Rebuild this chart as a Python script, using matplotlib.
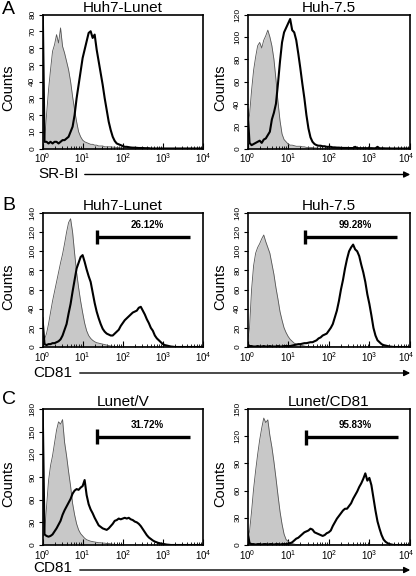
import numpy as np
import matplotlib
matplotlib.use("Agg")
import matplotlib.pyplot as plt
import matplotlib.transforms as mtransforms
from matplotlib.patches import FancyArrowPatch

plt.rcParams['font.family'] = ['Liberation Sans', 'DejaVu Sans']
plt.rcParams['mathtext.fontset'] = 'custom'
plt.rcParams['mathtext.rm'] = 'Liberation Sans'
plt.rcParams['mathtext.it'] = 'Liberation Sans:italic'

# channel positions (log10 of fluorescence), 0.05 decade steps from 10^0 to 10^4
log_bins = np.arange(0, 4.001, 0.05)

# --- A: SR-BI ---
a_lunet_iso = [2, 4, 20, 35, 47, 58, 62, 68, 63, 72, 61, 57, 52, 47, 40, 31, 23, 16, 10, 7,
               5, 4, 3.5, 3, 2.5, 2.5, 2, 2, 1.5, 1.5, 1.5, 1, 1, 1, 1, 0.8, 0.8, 0.6, 0.5, 0.4,
               0.3, 0.3, 0.2, 0.2, 0.1, 0, 0, 0, 0, 0, 0, 0, 0, 0, 0, 0, 0, 0, 0, 0,
               0, 0, 0, 0, 0, 0, 0, 0, 0, 0, 0, 0, 0, 0, 0, 0, 0, 0, 0, 0, 0]
a_lunet_srbi = [95, 4, 4, 3, 4, 3, 4, 4, 3, 4, 5, 5, 6, 7, 10, 13, 20, 30, 38, 46,
                54, 59, 64, 69, 70, 66, 68, 59, 52, 45, 38, 30, 23, 16, 11, 7, 4.5, 3, 2.5, 2,
                1.5, 1, 1, 0.8, 0.6, 0.5, 0.5, 0.4, 0.3, 0.3, 0.3, 0.2, 0.2, 0.2, 0, 0, 0, 0, 0, 0,
                0, 0, 0, 0, 0, 0, 0, 0, 0, 0, 0, 0, 0, 0, 0, 0, 0, 0, 0, 0, 0]
a_h75_iso = [20, 30, 52, 70, 82, 92, 95, 90, 97, 101, 106, 100, 92, 80, 62, 42, 25, 13, 8, 6,
             4, 3, 3, 2.5, 2, 2, 2, 1.5, 1.5, 1, 1, 1, 0.8, 0.5, 0.5, 0.3, 0.3, 0.2, 0.2, 0,
             0, 0, 0, 0, 0, 0, 0, 0, 0, 0, 0, 0, 0, 0, 0, 0, 0, 0, 0, 0,
             0, 0, 0, 0, 0, 0, 0, 0, 0, 0, 0, 0, 0, 0, 0, 0, 0, 0, 0, 0, 0]
a_h75_srbi = [35, 5, 3, 4, 5, 6, 7, 5, 8, 9, 12, 15, 26, 32, 40, 58, 78, 95, 104, 108,
              112, 116, 106, 104, 97, 85, 72, 58, 45, 30, 18, 10, 6, 4, 3, 2.5, 2.5, 2, 2, 1.5,
              1.5, 1.5, 1, 1, 0.8, 0.8, 0.6, 0.5, 0.5, 0.5, 0.4, 0.4, 0.4, 1.5, 0.4, 0.3, 0.3, 0.3, 0.3, 0.3,
              0.3, 0.3, 0.2, 0.2, 1.5, 0.2, 0.2, 0.2, 0.1, 0.1, 0.1, 0, 0, 0, 0, 0, 0, 0, 0, 0, 0]

# --- B: CD81 ---
b_lunet_iso = [3, 8, 14, 24, 36, 48, 58, 68, 78, 88, 97, 108, 120, 130, 134, 120, 98, 78, 62, 48,
               36, 25, 17, 12, 9, 7, 5.5, 4.5, 4, 3.5, 3, 2.5, 2, 1.5, 1, 0.8, 0.5, 0.3, 0.2, 0,
               0, 0, 0, 0, 0, 0, 0, 0, 0, 0, 0, 0, 0, 0, 0, 0, 0, 0, 0, 0,
               0, 0, 0, 0, 0, 0, 0, 0, 0, 0, 0, 0, 0, 0, 0, 0, 0, 0, 0, 0, 0]
b_lunet_cd81 = [30, 3, 2, 3, 3, 4, 4, 5, 6, 8, 12, 18, 24, 35, 45, 58, 70, 82, 88, 94,
                96, 89, 81, 74, 68, 57, 46, 37, 30, 24, 19, 16, 14, 13, 12, 12, 14, 16, 18, 22,
                25, 28, 30, 32, 34, 36, 37, 38, 41, 42, 38, 34, 29, 25, 20, 17, 12, 9, 7, 5,
                3, 2, 1.5, 1, 0.5, 0.3, 0, 0, 0, 0, 0, 0, 0, 0, 0, 0, 0, 0, 0, 0, 0]
b_h75_iso = [5, 20, 60, 85, 98, 104, 108, 113, 117, 110, 104, 98, 87, 76, 62, 50, 37, 28, 20, 15,
             11, 8, 6, 4, 3, 2.5, 2, 1.5, 1, 0.5, 0.3, 0.2, 0, 0, 0, 0, 0, 0, 0, 0,
             0, 0, 0, 0, 0, 0, 0, 0, 0, 0, 0, 0, 0, 0, 0, 0, 0, 0, 0, 0,
             0, 0, 0, 0, 0, 0, 0, 0, 0, 0, 0, 0, 0, 0, 0, 0, 0, 0, 0, 0, 0]
b_h75_cd81 = [3, 1, 1, 0.5, 0.5, 1, 0.5, 0.5, 1, 0.5, 0.5, 1, 0.5, 0.5, 0.5, 1, 0.5, 0.5, 1, 1,
              1, 1, 1.5, 2, 2.5, 3, 3, 3.5, 4, 4, 4.5, 5, 5, 6, 7, 9, 10, 12, 13, 14,
              17, 20, 24, 31, 38, 48, 60, 70, 82, 92, 100, 104, 107, 102, 100, 95, 86, 78, 68, 55,
              45, 33, 20, 12, 7, 5, 3, 2, 1.5, 1, 0.5, 0.3, 0, 0, 0, 0, 0, 0, 0, 0, 0]

# --- C: CD81 after transduction ---
c_v_iso = [10, 15, 50, 85, 105, 118, 135, 152, 163, 160, 166, 136, 118, 97, 78, 55, 40, 28, 20, 15,
           12, 9, 7, 6, 5, 4.5, 4, 3.5, 3, 3, 2.5, 2.5, 2, 2, 1.5, 1, 1, 0.5, 0.3, 0.2,
           0, 0, 0, 0, 0, 0, 0, 0, 0, 0, 0, 0, 0, 0, 0, 0, 0, 0, 0, 0,
           0, 0, 0, 0, 0, 0, 0, 0, 0, 0, 0, 0, 0, 0, 0, 0, 0, 0, 0, 0, 0]
c_v_cd81 = [200, 14, 12, 11, 12, 14, 18, 22, 27, 32, 40, 46, 51, 56, 61, 68, 72, 74, 73, 76,
            78, 86, 66, 54, 47, 42, 36, 31, 26, 24, 22, 21, 20, 22, 25, 28, 32, 33, 35, 34,
            35, 36, 35, 36, 34, 33, 31, 30, 28, 25, 21, 17, 13, 10, 8, 6, 4.5, 3.5, 2.5, 2,
            1.5, 1, 0.5, 0.3, 0, 0, 0, 0, 0, 0, 0, 0, 0, 0, 0, 0, 0, 0, 0, 0, 0]
c_cd81_iso = [5, 15, 37, 62, 82, 100, 116, 129, 140, 135, 138, 121, 108, 92, 74, 55, 37, 23, 12, 6,
              4, 2.5, 1.5, 1, 0.5, 0.3, 0, 0, 0, 0, 0, 0, 0, 0, 0, 0, 0, 0, 0, 0,
              0, 0, 0, 0, 0, 0, 0, 0, 0, 0, 0, 0, 0, 0, 0, 0, 0, 0, 0, 0,
              0, 0, 0, 0, 0, 0, 0, 0, 0, 0, 0, 0, 0, 0, 0, 0, 0, 0, 0, 0, 0]
c_cd81_cd81 = [15, 2, 1, 1, 0.5, 1, 1, 0.5, 1, 1, 0.5, 1, 1, 0.5, 1, 1, 0.5, 1, 1, 1,
               1.5, 2, 3, 5, 7, 8, 10, 12, 14, 15, 16, 18, 17, 14, 13, 12, 11, 10, 11, 13,
               14, 16, 21, 25, 29, 32, 35, 38, 40, 40, 43, 46, 51, 55, 59, 64, 68, 73, 79, 71,
               74, 66, 52, 38, 26, 18, 11, 6, 3.5, 2, 1, 0.5, 0, 0, 0, 0, 0, 0, 0, 0, 0]

titles = ["Huh7-Lunet", "Huh-7.5", "Huh7-Lunet", "Huh-7.5", "Lunet/V", "Lunet/CD81"]
iso_curves = [a_lunet_iso, a_h75_iso, b_lunet_iso, b_h75_iso, c_v_iso, c_cd81_iso]
stain_curves = [a_lunet_srbi, a_h75_srbi, b_lunet_cd81, b_h75_cd81, c_v_cd81, c_cd81_cd81]
y_max = [80, 120, 140, 140, 180, 150]
y_step = [10, 20, 20, 20, 30, 30]

# marker gates (panels B and C)
gate_pct = [None, None, "26.12%", "99.28%", "31.72%", "95.83%"]
gate_lo = [None, None, 23, 26, 23, 27]
gate_hi = [None, None, 4800, 4700, 4800, 5000]
gate_y = [None, None, 115, 115, 143, 119]

row_labels = ["A", "B", "C"]
row_markers = ["SR-BI", "CD81", "CD81"]

W, H = 416, 576
fig = plt.figure(figsize=(W / 100, H / 100), dpi=100)


def px_rect(x0, y0, x1, y1):
    return [x0 / W, 1 - y1 / H, (x1 - x0) / W, (y1 - y0) / H]


rows_px = [(14.5, 148.5), (213, 347), (409, 545)]
cols_px = [(42.5, 203), (247.5, 410)]
label_x = [-0.17, -0.125]

x = 10 ** log_bins
for i in range(6):
    r, c = divmod(i, 2)
    ax = fig.add_axes(px_rect(cols_px[c][0], rows_px[r][0], cols_px[c][1], rows_px[r][1]))
    ax.fill_between(x, iso_curves[i], color='#c8c8c8', lw=0)
    ax.plot(x, iso_curves[i], color='#555555', lw=0.6)
    ax.plot(x, stain_curves[i], color='black', lw=1.5)
    ax.set_xscale('log')
    ax.set_xlim(1, 1e4)
    ax.set_ylim(0, y_max[i])
    ax.set_yticks(np.arange(0, y_max[i] + 1, y_step[i]))
    ax.set_xticks([1, 10, 100, 1000, 10000])
    ax.tick_params(axis='y', direction='out', length=3, width=0.8, labelsize=6, pad=1.5)
    for lab in ax.get_yticklabels():
        lab.set_rotation(90)
        lab.set_va('center')
    ax.tick_params(axis='x', which='major', direction='in', length=4, width=0.8,
                   labelsize=7, pad=2)
    ax.tick_params(axis='x', which='minor', direction='in', length=2.5, width=0.6)
    if c == 1:
        # pull the 10^4 label in a little so it stays on the page
        last = ax.get_xticklabels()[-1]
        last.set_transform(last.get_transform() +
                           mtransforms.ScaledTranslation(-4 / 100, 0, fig.dpi_scale_trans))
    for s in ax.spines.values():
        s.set_linewidth(1.2)
    ax.set_title(titles[i], fontsize=11, pad=1.5)
    ax.set_ylabel("Counts", fontsize=10.5)
    ax.yaxis.set_label_coords(label_x[c], 0.45)

    if gate_pct[i]:
        ax.plot([gate_lo[i], gate_hi[i]], [gate_y[i], gate_y[i]], color='black', lw=2.4,
                solid_capstyle='butt')
        ax.plot([gate_lo[i], gate_lo[i]], [gate_y[i] - 0.055 * y_max[i], gate_y[i] + 0.055 * y_max[i]],
                color='black', lw=2.4, solid_capstyle='butt')
        ax.text(np.sqrt(gate_lo[i] * gate_hi[i]) * 1.25, gate_y[i] + 0.09 * y_max[i], gate_pct[i],
                fontsize=7, fontweight='bold', ha='center', va='center')

# panel letters and marker arrows under each row
letter_y = [10, 205, 400]
arrow_y = [174.5, 373, 570]
text_y = [174.5, 373, 568.5]
marker_x = [38, 33, 33]
arrow_x0 = [82, 77, 77]
for r in range(3):
    fig.text(2 / W, 1 - letter_y[r] / H, row_labels[r], fontsize=14, ha='left', va='center')
    fig.text(marker_x[r] / W, 1 - text_y[r] / H, row_markers[r], fontsize=11,
             ha='left', va='center')
    arr = FancyArrowPatch((arrow_x0[r] / W, 1 - arrow_y[r] / H), (413 / W, 1 - arrow_y[r] / H),
                          transform=fig.transFigure, arrowstyle='-|>', mutation_scale=9,
                          lw=1, color='black')
    fig.add_artist(arr)

fig.savefig("out.png", dpi=100)
